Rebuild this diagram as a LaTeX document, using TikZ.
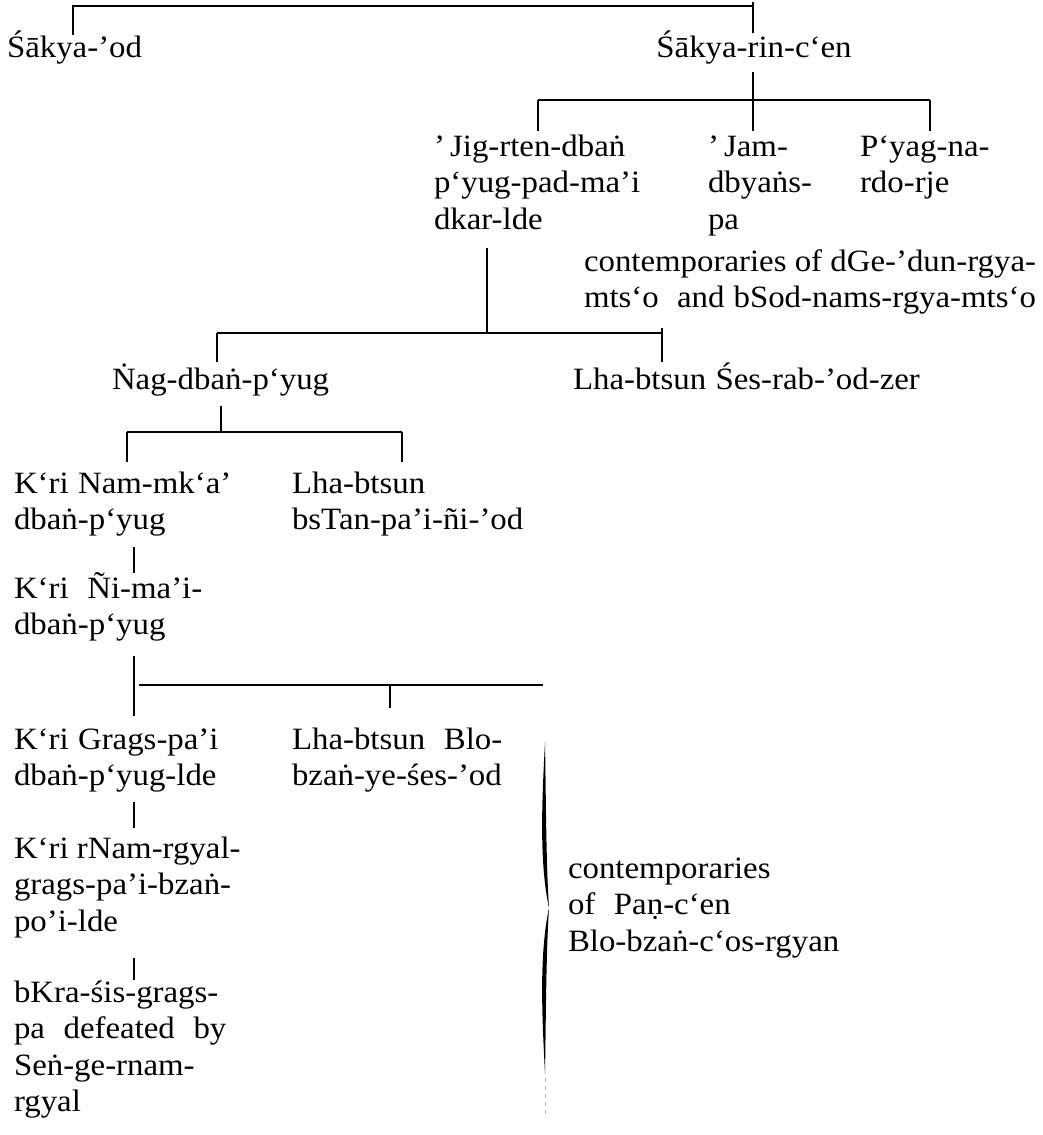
\documentclass[tikz,border=0pt]{standalone}
\usepackage{fontspec}
\setmainfont{Liberation Serif}[FakeStretch=1.06]
\newcommand{\ml}[1]{\begin{tabular}[t]{@{}l@{}}#1\end{tabular}}
\newcommand{\myfont}{\fontsize{31}{36.5}\selectfont}
\newcommand{\wsp}{\hspace{0.3em}}
\newcommand{\jl}[1]{\makebox[452pt][s]{#1}}
\begin{document}
\begin{tikzpicture}[x=1pt,y=-1pt,
  txt/.style={anchor=base west,inner sep=0pt,outer sep=0pt,font=\myfont},
  ln/.style={line width=1.1pt,line cap=butt}]
\useasboundingbox (0,0) rectangle (1043,1135);

% texts
\node[txt] (sod) at (7,57) {Śākya-’od};
\node[txt,anchor=base] (src) at (754,57) {Śākya-rin-c‘en};
\node[txt] (jig) at (434,156) {\ml{’\,Jig-rten-dbaṅ\\p‘yug-pad-ma’i\\dkar-lde}};
\node[txt] (jam) at (708,156) {\ml{’\,Jam-\\dbyaṅs-\\pa}};
\node[txt] (pyag) at (860,156) {\ml{P‘yag-na-\\rdo-rje}};
\node[txt] (cont1) at (584,271) {\ml{\jl{contemporaries of dGe-’dun-rgya-}\\\jl{mts‘o\ \ and bSod-nams-rgya-mts‘o}}};
\node[txt] (nag) at (112,389) {Ṅag-dbaṅ-p‘yug};
\node[txt] (lha1) at (573,389) {Lha-btsun\wsp Śes-rab-’od-zer};
\node[txt] (nam) at (14,493) {\ml{K‘ri\wsp Nam-mk‘a’\\dbaṅ-p‘yug}};
\node[txt] (lha2) at (292,493) {\ml{Lha-btsun\\bsTan-pa’i-ñi-’od}};
\node[txt] (nyi) at (14,598) {\ml{K‘ri\wsp\wsp Ñi-ma’i-\\dbaṅ-p‘yug}};
\node[txt] (grags) at (14,749) {\ml{K‘ri\wsp Grags-pa’i\\dbaṅ-p‘yug-lde}};
\node[txt] (lha3) at (292,749) {\ml{Lha-btsun\wsp\wsp Blo-\\bzaṅ-ye-śes-’od}};
\node[txt] (rnam) at (14,858) {\ml{K‘ri rNam-rgyal-\\grags-pa’i-bzaṅ-\\po’i-lde}};
\node[txt] (bkra) at (14,1002) {\ml{bKra-śis-grags-\\pa\wsp\wsp defeated\wsp\wsp by\\Seṅ-ge-rnam-\\rgyal}};
\node[txt] (cont2) at (568,878) {\ml{contemporaries\\of\wsp\wsp Paṇ-c‘en\\Blo-bzaṅ-c‘os-rgyan}};

% connectors
\coordinate (t1) at (73,6);
\coordinate (t2) at (753,6);
\draw[ln] (73,5) -- (73,35);
\draw[ln] (t1) -- (t2);
\draw[ln] (753,2) -- (753,33);

\coordinate (b2) at (753,100);
\draw[ln] (753,72) -- (b2);
\draw[ln] (538,100) -- (930,100);
\draw[ln] (538,100) -- (538,131);
\draw[ln] (b2) -- (753,131);
\draw[ln] (930,100) -- (930,131);

\coordinate (b3) at (487,333);
\draw[ln] (487,248) -- (b3);
\draw[ln] (217,333) -- (662,333);
\draw[ln] (217,333) -- (217,362);
\draw[ln] (662,328) -- (662,362);

\coordinate (b4) at (221,432);
\draw[ln] (221,406) -- (b4);
\draw[ln] (127,432) -- (402,432);
\draw[ln] (127,432) -- (127,462);
\draw[ln] (402,432) -- (402,462);

\draw[ln] (134,547) -- (134,573);

\draw[ln] (134,656) -- (134,716);
\draw[ln] (139,685) -- (543,685);
\draw[ln] (390,685) -- (390,708);

\draw[ln] (134,802) -- (134,828);
\draw[ln] (134,958) -- (134,980);

% brace
\fill (545,742) .. controls (542,800) and (539,862) .. (549,908)
      .. controls (539,955) and (542,1015) .. (545,1074)
      .. controls (546,1015) and (546,955) .. (549,908)
      .. controls (546,862) and (546,800) .. (545,742) -- cycle;
\draw[line width=0.6pt,gray!60,dash pattern=on 4pt off 4pt] (545,1078) -- (545,1118);
\end{tikzpicture}
\end{document}
